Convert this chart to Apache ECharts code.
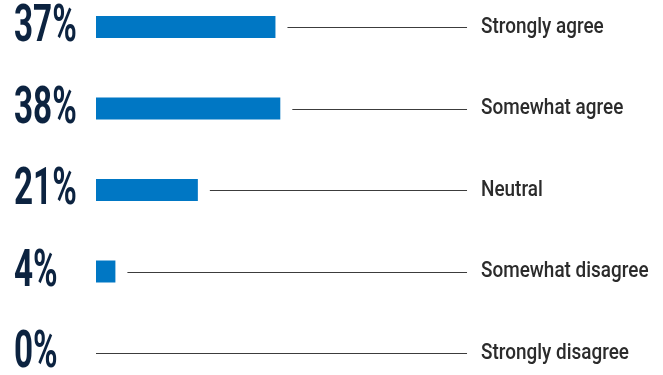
<!DOCTYPE html>
<html><head><meta charset="utf-8">
<script src="https://cdn.jsdelivr.net/npm/echarts@6/dist/echarts.min.js"></script>
<style>html,body{margin:0;padding:0;background:#fff}#c{width:663px;height:375px}</style>
</head><body><div id="c"></div>
<script>
const categories = ['Strongly agree', 'Somewhat agree', 'Neutral', 'Somewhat disagree', 'Strongly disagree'];
const values = [37, 38, 21, 4, 0];
const valueLabels = ['37%', '38%', '21%', '4%', '0%'];

const chart = echarts.init(document.getElementById('c'), null, { renderer: 'canvas' });
chart.setOption({
  animation: false,
  grid: { left: 96, right: 82, top: 27, bottom: 22, containLabel: false },
  xAxis: { type: 'value', min: 0, max: 100, show: false },
  yAxis: { type: 'category', data: categories, inverse: true, boundaryGap: false, show: false },
  series: [
    { type: 'bar', data: values, barWidth: 22, itemStyle: { color: '#0077C4' }, silent: true },
    {
      type: 'custom',
      silent: true,
      data: values.map((v, i) => [v, i]),
      encode: { x: 0, y: 1 },
      renderItem: function (params, api) {
        const v = api.value(0), i = api.value(1);
        const end = api.coord([v, i]);
        const start = api.coord([0, i]);
        const cy = Math.round(end[1]) + 0.5;
        const lineStart = v > 0 ? end[0] + 12 : start[0];
        const lineEnd = api.coord([76.5, i])[0];
        return {
          type: 'group',
          children: [
            { type: 'line', shape: { x1: lineStart, y1: cy, x2: lineEnd, y2: cy },
              style: { stroke: '#3c3c3c', lineWidth: 1.2 } },
            { type: 'text', x: 14, y: end[1] + 1, scaleX: 0.64,
              style: { text: valueLabels[i], fill: '#0c2340', fontFamily: 'Roboto', fontWeight: 'bold', fontSize: 52,
                       align: 'left', verticalAlign: 'middle', textAlign: 'left', textVerticalAlign: 'middle' } },
            { type: 'text', x: lineEnd + 14, y: end[1], scaleX: 0.86,
              style: { text: categories[i], fill: '#2b2b2b', fontFamily: 'Roboto', fontWeight: 500, fontSize: 22,
                       align: 'left', verticalAlign: 'middle', textAlign: 'left', textVerticalAlign: 'middle' } }
          ]
        };
      }
    }
  ]
});
</script>
</body></html>
